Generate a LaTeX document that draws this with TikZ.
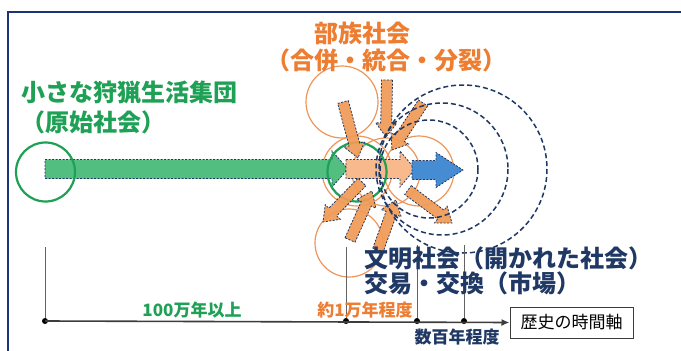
\documentclass[tikz,border=0pt]{standalone}
\usepackage{fontspec}
\newfontfamily\jp{Noto Sans CJK JP}
\usetikzlibrary{calc,arrows.meta}
\definecolor{navy}{RGB}{31,56,100}
\definecolor{frameblue}{RGB}{30,50,120}
\definecolor{tgreen}{RGB}{30,160,85}
\definecolor{bgreen}{RGB}{82,190,128}
\definecolor{torange}{RGB}{237,125,49}
\definecolor{aorange}{RGB}{240,155,85}
\definecolor{lorange}{RGB}{248,185,140}
\definecolor{corange}{RGB}{238,150,90}
\definecolor{ablue}{RGB}{70,140,210}
\definecolor{tl}{RGB}{60,60,60}
\newcommand\blockarr[6]{%
  \coordinate (neck) at ($(#3)!#6!(#2)$);
  \path[#1] ($(#2)!#4!90:(#3)$) -- ($(neck)!#4!90:(#3)$) -- ($(neck)!#5!90:(#3)$)
    -- (#3) -- ($(neck)!#5!-90:(#3)$) -- ($(neck)!#4!-90:(#3)$) -- ($(#2)!#4!-90:(#3)$) -- cycle;}
\tikzset{
  ocirc/.style={draw=corange, line width=1.2pt},
  dcirc/.style={draw=navy, line width=1.5pt, dash pattern=on 5pt off 3pt},
  smallarr/.style={fill=aorange, fill opacity=0.92, draw=navy, line width=0.8pt, dash pattern=on 2pt off 1.5pt},
  mainout/.style={draw=navy, line width=0.8pt, dash pattern=on 2pt off 1.5pt},
  jtxt/.style={font=\jp\bfseries, inner sep=0pt},
  vline/.style={draw=tl!80, line width=0.9pt},
  tdot/.style={circle, fill=black, inner sep=0pt, minimum size=6pt},
}
\begin{document}
\begin{tikzpicture}[x=1pt,y=-1pt]
\useasboundingbox (0,0) rectangle (681,351);
\fill[white] (0,0) rectangle (681,351);
% frame
\draw[frameblue, line width=2pt] (7.5,351) -- (7.5,11.5) -- (681,11.5);
% orange circles
\draw[ocirc] (342,102) circle (36);
\draw[ocirc] (357,171) circle (35);
\draw[ocirc] (386,172) circle (34);
\draw[ocirc] (419,171) circle (35);
\draw[ocirc] (349,243) circle (34);
% main arrows
\coordinate (g1) at (45,169); \coordinate (g2) at (348,169);
\coordinate (o1) at (346,169); \coordinate (o2) at (415,169);
\coordinate (b1) at (412,170); \coordinate (b2) at (463,170);
\blockarr{fill=bgreen, mainout}{g1}{g2}{9.5pt}{18pt}{16pt}
\blockarr{fill=lorange, mainout}{o1}{o2}{9.5pt}{18pt}{15pt}
\blockarr{fill=ablue, mainout}{b1}{b2}{9.5pt}{17.5pt}{27pt}
% green circles
\draw[tgreen, line width=2.2pt] (45.5,172) circle (29.5);
\draw[tgreen, line width=2.2pt] (357,172) circle (29.5);
% small orange arrows
\coordinate (a1s) at (343,102); \coordinate (a1e) at (358,158);
\coordinate (a2s) at (387,80);  \coordinate (a2e) at (386,137);
\coordinate (a3s) at (423,103); \coordinate (a3e) at (392,150);
\coordinate (a4s) at (408,190); \coordinate (a4e) at (452,223);
\coordinate (a5s) at (362,182); \coordinate (a5e) at (323,222);
\coordinate (a6s) at (350,240); \coordinate (a6e) at (372,191);
\coordinate (a7s) at (378,250); \coordinate (a7e) at (396,200);
\foreach \s/\e in {a1s/a1e,a2s/a2e,a3s/a3e,a4s/a4e,a5s/a5e,a6s/a6e,a7s/a7e}{
  \blockarr{smallarr}{\s}{\e}{5.5pt}{10.5pt}{14pt}
}
% dashed circles
\draw[dcirc] (463,169) circle (84);
\draw[dcirc] (442,169) circle (66);
\draw[dcirc] (429,169) circle (49);
% titles
\node[jtxt, text=tgreen, font=\jp\bfseries\fontsize{24}{28}\selectfont, anchor=west] (t1) at (21,93) {小さな狩猟生活集団};
\node[jtxt, text=tgreen, font=\jp\bfseries\fontsize{24}{28}\selectfont, anchor=west] (t2) at (21,122) {（原始社会）};
\node[jtxt, text=torange, font=\jp\bfseries\fontsize{24}{28}\selectfont] (t3) at (362,33) {部族社会};
\node[jtxt, text=torange, font=\jp\bfseries\fontsize{24}{28}\selectfont] (t4) at (386,60) {（合併・統合・分裂）};
% timeline
\node[tdot] (d1) at (45,321) {};
\node[tdot] (d2) at (346,321) {};
\node[tdot] (d3) at (417,321) {};
\node[tdot] (d4) at (464,321) {};
\coordinate (v1) at (45,247); \coordinate (v2) at (346,247);
\coordinate (v3) at (417,245); \coordinate (v4) at (464,245);
\draw[vline] (v1) -- (d1); \draw[vline] (v2) -- (d2);
\draw[vline] (v3) -- (d3); \draw[vline] (v4) -- (d4);
\node[draw=tl, line width=1pt, fill=white, minimum width=123pt, minimum height=31pt, inner sep=0pt, font=\jp\fontsize{17}{20}\selectfont, text=black] (box) at (571.5,322.5) {歴史の時間軸};
\draw[tl, line width=1.6pt, -{Latex[length=8pt,width=7pt]}] (d1.center) -- (box.west);
% civilisation texts
\node[jtxt, text=navy, font=\jp\bfseries\fontsize{24}{28}\selectfont, anchor=west] (t5) at (364,258) {文明社会（開かれた社会）};
\node[jtxt, text=navy, font=\jp\bfseries\fontsize{24}{28}\selectfont, anchor=west] (t6) at (364,283) {交易・交換（市場）};
% timeline labels
\node[jtxt, text=tgreen, font=\jp\bfseries\fontsize{17}{20}\selectfont] (l1) at (192,310) {100万年以上};
\node[jtxt, text=torange, font=\jp\bfseries\fontsize{17}{20}\selectfont] (l2) at (365,310) {約1万年程度};
\node[jtxt, text=navy, font=\jp\bfseries\fontsize{17}{20}\selectfont] (l3) at (457,337) {数百年程度};
\end{tikzpicture}
\end{document}
